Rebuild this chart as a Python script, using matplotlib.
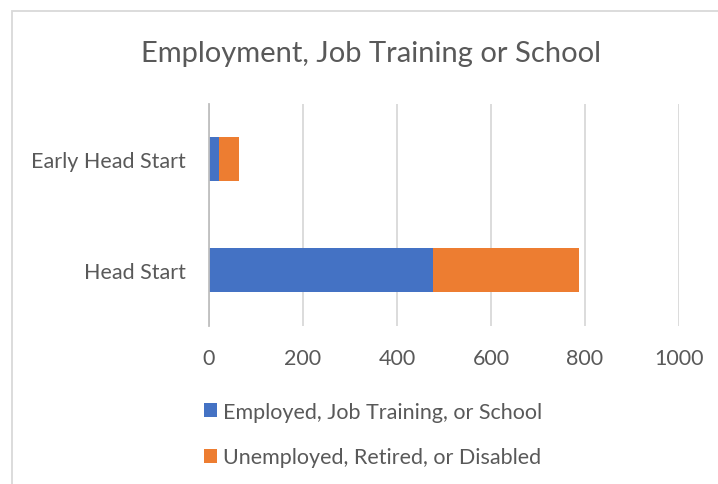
import matplotlib.pyplot as plt
from matplotlib.patches import Rectangle

# data
categories = ["Head Start", "Early Head Start"]
employed = [477, 22]
unemployed = [311, 42]
series_names = ["Employed, Job Training, or School", "Unemployed, Retired, or Disabled"]
x_ticks = [0, 200, 400, 600, 800, 1000]

blue = "#4472C4"
orange = "#ED7D31"
txt = "#595959"

plt.rcParams["font.family"] = ["Lato", "DejaVu Sans"]

fig = plt.figure(figsize=(7.18, 4.85), dpi=100)
ax = fig.add_axes([0.2911, 0.3268, 0.6546, 0.4577])

ypos = range(len(categories))
b1 = ax.barh(ypos, employed, height=0.4, color=blue, label=series_names[0], zorder=3)
b2 = ax.barh(ypos, unemployed, left=employed, height=0.4, color=orange,
             label=series_names[1], zorder=3)

ax.set_xlim(0, 1000)
ax.set_ylim(-0.5, 1.5)
ax.set_xticks(x_ticks)
ax.set_yticks(list(ypos))
ax.set_yticklabels(categories)
ax.xaxis.grid(True, color="#D9D9D9", linewidth=1.3, zorder=0)
ax.tick_params(axis="both", length=0, labelsize=15.5, colors=txt)
ax.tick_params(axis="x", pad=16)
ax.tick_params(axis="y", pad=16.5)
for s in ["top", "right", "bottom"]:
    ax.spines[s].set_visible(False)
ax.spines["left"].set_color("#BFBFBF")
ax.spines["left"].set_linewidth(1.3)
ax.spines["left"].set_zorder(4)

fig.text(0.517, 0.889, "Employment, Job Training or School", ha="center", va="center",
         fontsize=21, color=txt)

fig.legend(handles=[b1, b2], loc="upper left", bbox_to_anchor=(0.2688, 0.192),
           frameon=False, fontsize=15.5, labelcolor=txt, handlelength=0.6,
           handleheight=0.6, handletextpad=0.28, labelspacing=1.2, borderpad=0)

# chart area border (left and top edges visible in the crop)
fig.add_artist(Rectangle((11.5 / 718, -0.1), 1.2, (485 - 11.5) / 485 + 0.1,
                         transform=fig.transFigure, fill=False,
                         edgecolor="#D9D9D9", linewidth=1.3))

fig.savefig("out.png", dpi=100, facecolor="white")
